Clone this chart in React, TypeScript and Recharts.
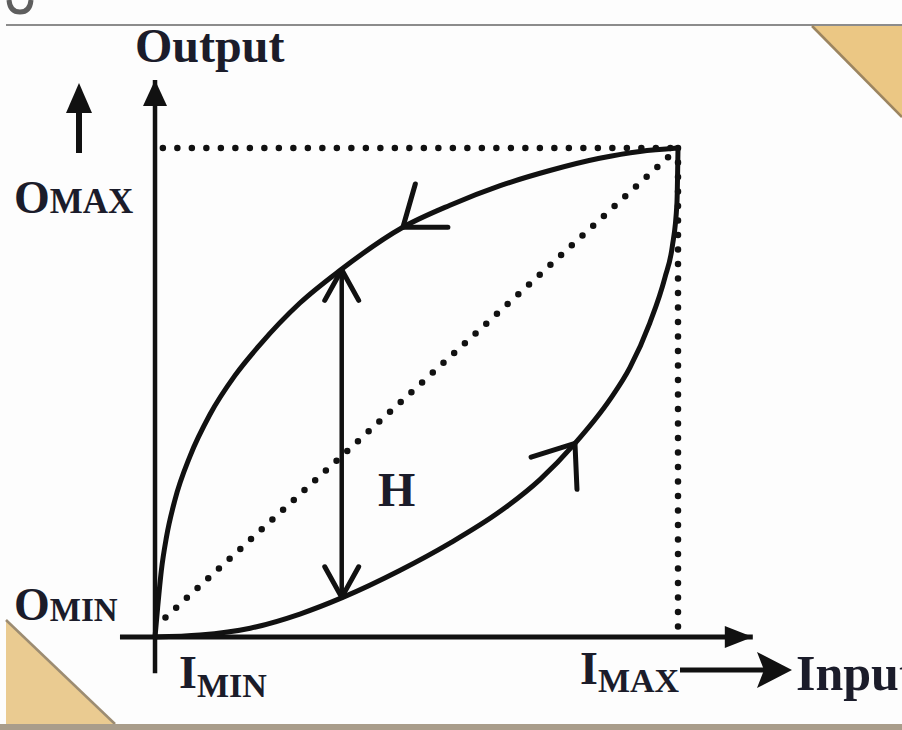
import React from 'react';
import { LineChart, Line, XAxis, YAxis } from 'recharts';

type Pt = { x: number; y: number };

// descending branch: input coming back down from I_MAX
const upperInput = [0, 0.5, 1.2, 2.2, 3.8, 6.7, 10.5, 15.3, 20, 27.7, 35.4, 47.4, 56.4, 66, 75.5, 85, 92.7, 100];
const upperOutput = [0, 6, 13.5, 20.5, 28, 37, 45.5, 53.5, 59.7, 68.3, 75, 83.8, 88.3, 92.3, 95.4, 97.9, 99.3, 100];

// ascending branch: input rising from I_MIN
const lowerInput = [0, 8.6, 18.2, 27.7, 35.9, 46.8, 56.4, 66, 73.6, 80.3, 87, 90.8, 94.6, 97.5, 98.9, 99.8, 100];
const lowerOutput = [0, 0.4, 1.8, 4.7, 8.1, 13.6, 19.2, 25.7, 32.2, 39.6, 48.6, 55.1, 64.2, 73.5, 79.8, 88.8, 100];

// where the direction chevrons sit on each branch
const upperArrowAt = 47.4;
const lowerArrowAt = 80.3;

// hysteresis width H, measured between the branches
const hInput = 35.7;
const hRange = [8.1, 75.1];

// axis extents (input / output units)
const inputAxisRange = [-6.7, 114.3];
const outputAxisRange = [-7.4, 113.9];

// dotted guides
const guideTop = [[1.5, 100], [100, 100]];
const guideRight = [[100, 100], [100, 1]];
const guideIdeal = [[2, 4], [100, 100]];

const X_DOMAIN: [number, number] = [-29.64, 142.83];
const Y_DOMAIN: [number, number] = [-19.02, 130.27];

const INK = '#111111';
const TEXT = '#1b1c2a';
const SERIF = "'Liberation Serif', 'Times New Roman', serif";

const zip = (xs: number[], ys: number[]): Pt[] => xs.map((x, i) => ({ x, y: ys[i] }));
const pairs = (p: number[][]): Pt[] => p.map(([x, y]) => ({ x, y }));

const upperData = zip(upperInput, upperOutput);
const lowerData = zip(lowerInput, lowerOutput);
const hData: Pt[] = [{ x: hInput, y: hRange[0] }, { x: hInput, y: hRange[1] }];
const xAxisData: Pt[] = inputAxisRange.map((x) => ({ x, y: 0 }));
const yAxisData: Pt[] = outputAxisRange.map((y) => ({ x: 0, y }));

const chevron = (cx: number, cy: number, angle: number, spread: number, len: number, key: any) => {
  const a1 = ((angle - spread) * Math.PI) / 180;
  const a2 = ((angle + spread) * Math.PI) / 180;
  const p1 = `${cx + len * Math.cos(a1)},${cy + len * Math.sin(a1)}`;
  const p2 = `${cx + len * Math.cos(a2)},${cy + len * Math.sin(a2)}`;
  return (
    <polyline
      key={key}
      points={`${p1} ${cx},${cy} ${p2}`}
      fill="none"
      stroke={INK}
      strokeWidth={5}
      strokeLinecap="round"
      strokeLinejoin="round"
    />
  );
};

const empty = (key: any) => <g key={key} />;

const upperDot = (p: any) =>
  p.payload?.x === upperArrowAt ? chevron(p.cx, p.cy, -37, 37, 45, p.index) : empty(p.index);

const lowerDot = (p: any) =>
  p.payload?.x === lowerArrowAt ? chevron(p.cx, p.cy, 125, 37.5, 46, p.index) : empty(p.index);

const hDot = (p: any) =>
  p.index === 0 ? chevron(p.cx, p.cy, -90, 29, 35, p.index) : chevron(p.cx, p.cy, 90, 29, 35, p.index);

const xAxisDot = (p: any) =>
  p.index === 1 ? (
    <polygon key={p.index} points={`${p.cx},${p.cy} ${p.cx - 28},${p.cy - 11} ${p.cx - 28},${p.cy + 11}`} fill={INK} />
  ) : (
    empty(p.index)
  );

const yAxisDot = (p: any) =>
  p.index === 1 ? (
    <polygon key={p.index} points={`${p.cx},${p.cy} ${p.cx - 12},${p.cy + 26} ${p.cx + 12},${p.cy + 26}`} fill={INK} />
  ) : (
    empty(p.index)
  );

const dotted = { stroke: INK, strokeWidth: 6.5, strokeDasharray: '0 14.5', strokeLinecap: 'round' as const };

const Backdrop = () => (
  <svg width={902} height={730} style={{ position: 'absolute', left: 0, top: 0 }}>
    <rect x={0} y={0} width={902} height={730} fill="#fdfdfd" />
    <path d="M 9 0 Q 10 12 20 12 Q 30 12 31 0" fill="none" stroke="#5e5e5e" strokeWidth={5} />
    <line x1={6} y1={25} x2={902} y2={25} stroke="#8c8c8c" strokeWidth={2} />
    <polygon points="812,26 902,26 902,117" fill="#ebc784" />
    <line x1={812} y1={26} x2={902} y2={117} stroke="#9c8560" strokeWidth={2.5} />
    <polygon points="6,620 6,725 115,725" fill="#eacb91" />
    <line x1={6} y1={620} x2={115} y2={724} stroke="#9c8c72" strokeWidth={2.5} />
    <rect x={0} y={724} width={902} height={6} fill="#a99d8b" />
  </svg>
);

const Labels = () => (
  <svg width={902} height={730} style={{ position: 'absolute', left: 0, top: 0, pointerEvents: 'none' }}>
    <g fontFamily={SERIF} fontWeight={700} fill={TEXT}>
      <text x={135} y={62} fontSize={48}>Output</text>
      <text x={14} y={213}>
        <tspan fontSize={46}>O</tspan>
        <tspan fontSize={35}>MAX</tspan>
      </text>
      <text x={14} y={620}>
        <tspan fontSize={46}>O</tspan>
        <tspan fontSize={33} dy={1}>MIN</tspan>
      </text>
      <text x={179} y={688}>
        <tspan fontSize={46}>I</tspan>
        <tspan fontSize={34} dy={9}>MIN</tspan>
      </text>
      <text x={580} y={684}>
        <tspan fontSize={46}>I</tspan>
        <tspan fontSize={34} dy={8}>MAX</tspan>
      </text>
      <text x={796} y={690} fontSize={50}>Input</text>
      <text x={378} y={506} fontSize={48}>H</text>
    </g>
    {/* up arrow beside the output axis */}
    <polygon points="79,83 66,113 92,113" fill={INK} />
    <rect x={76} y={110} width={6} height={43} fill={INK} />
    {/* arrow from I_MAX towards Input */}
    <rect x={680} y={667.5} width={84} height={5} fill={INK} />
    <polygon points="792,670 757,652 764,670 757,688" fill={INK} />
  </svg>
);

export default function App() {
  return (
    <div style={{ position: 'absolute', left: 0, top: 0, width: 902, height: 730 }}>
      <Backdrop />
      <div style={{ position: 'absolute', left: 0, top: 0 }}>
        <LineChart width={902} height={730} margin={{ top: 0, right: 0, bottom: 0, left: 0 }}>
          <XAxis type="number" dataKey="x" domain={X_DOMAIN} allowDataOverflow hide />
          <YAxis type="number" dataKey="y" domain={Y_DOMAIN} allowDataOverflow hide />

          <Line data={pairs(guideTop)} dataKey="y" type="linear" dot={false} activeDot={false} isAnimationActive={false} {...dotted} />
          <Line data={pairs(guideRight)} dataKey="y" type="linear" dot={false} activeDot={false} isAnimationActive={false} {...dotted} />
          <Line data={pairs(guideIdeal)} dataKey="y" type="linear" dot={false} activeDot={false} isAnimationActive={false} {...dotted} />

          <Line data={xAxisData} dataKey="y" type="linear" stroke={INK} strokeWidth={5} dot={xAxisDot} activeDot={false} isAnimationActive={false} />
          <Line data={yAxisData} dataKey="y" type="linear" stroke={INK} strokeWidth={4.5} dot={yAxisDot} activeDot={false} isAnimationActive={false} />

          <Line data={upperData} dataKey="y" type="monotoneX" stroke={INK} strokeWidth={5} dot={upperDot} activeDot={false} isAnimationActive={false} />
          <Line data={lowerData} dataKey="y" type="monotoneX" stroke={INK} strokeWidth={5} dot={lowerDot} activeDot={false} isAnimationActive={false} />

          <Line data={hData} dataKey="y" type="linear" stroke={INK} strokeWidth={4.5} dot={hDot} activeDot={false} isAnimationActive={false} />
        </LineChart>
      </div>
      <Labels />
    </div>
  );
}
